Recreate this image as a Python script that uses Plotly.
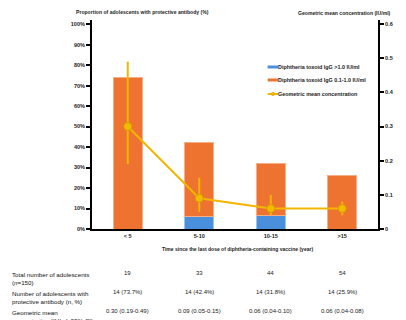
import plotly.graph_objects as go

# Categories: years since last diphtheria-containing vaccine dose
groups = ["< 5", "5-10", "10-15", ">15"]

# Proportion (%) of adolescents by antibody level
pct_high = [0.0, 6.1, 6.8, 0.0]          # IgG > 1.0 IU/ml
pct_mid = [73.7, 36.3, 25.0, 25.9]       # IgG 0.1-1.0 IU/ml

# Geometric mean concentration (IU/ml) with 95% CI
gmc = [0.30, 0.09, 0.06, 0.06]
gmc_lo = [0.19, 0.05, 0.04, 0.04]
gmc_hi = [0.49, 0.15, 0.10, 0.08]

# Left axis ticks
pct_ticks = [0, 10, 20, 30, 40, 50, 60, 70, 80, 90, 100]
pct_tick_text = ["0%", "10%", "20%", "30%", "40%", "50%", "60%", "70%", "80%", "90%", "100%"]

# Table rows under the chart
total_n = ["19", "33", "44", "54"]
protected_n = ["14 (73.7%)", "14 (42.4%)", "14 (31.8%)", "14 (25.9%)"]
gmc_text = ["0.30 (0.19-0.49)", "0.09 (0.05-0.15)", "0.06 (0.04-0.10)", "0.06 (0.04-0.08)"]

# Legend entries
legend_names = ["Diphtheria toxoid IgG >1.0 IU/ml",
                "Diphtheria toxoid IgG 0.1-1.0 IU/ml",
                "Geometric mean concentration"]

FONT = "Liberation Sans, Arial, sans-serif"
BLUE = "#4A8FDC"
ORANGE = "#EE7331"
GOLD = "#F2B600"

fig = go.Figure()

fig.add_trace(go.Bar(
    x=groups, y=pct_high, width=0.4, marker=dict(color=BLUE, line=dict(color="#9CC3EE", width=1)),
    name=legend_names[0], hoverinfo="skip"))
fig.add_trace(go.Bar(
    x=groups, y=pct_mid, width=0.4, marker=dict(color=ORANGE, line=dict(color="#F6AE86", width=1)),
    name=legend_names[1], hoverinfo="skip"))

fig.add_trace(go.Scatter(
    x=groups, y=gmc, yaxis="y2", mode="lines+markers", name=legend_names[2],
    line=dict(color=GOLD, width=2),
    marker=dict(size=8, color="#F5BA00", line=dict(color="#D49C00", width=1)),
    error_y=dict(type="data", symmetric=False,
                 array=[h - m for h, m in zip(gmc_hi, gmc)],
                 arrayminus=[m - l for m, l in zip(gmc, gmc_lo)],
                 color=GOLD, thickness=2, width=0),
    hoverinfo="skip"))

fig.update_layout(
    width=406, height=320,
    margin=dict(l=92, r=16, t=20, b=91),
    paper_bgcolor="white", plot_bgcolor="white",
    barmode="stack", bargap=0.6,
    font=dict(family=FONT, size=6, color="#222"),
    showlegend=False,
    xaxis=dict(showline=True, linecolor="black", linewidth=2, ticks="",
               tickfont=dict(size=5.5, weight="bold"), showgrid=False, zeroline=False),
    yaxis=dict(range=[0, 102], tickvals=pct_ticks, ticktext=pct_tick_text,
               showline=True, linecolor="black", linewidth=2, ticks="outside",
               ticklen=4, tickwidth=1.5, tickcolor="black", showgrid=False, zeroline=False,
               tickfont=dict(size=5.5, weight="bold")),
    yaxis2=dict(range=[0, 0.612], overlaying="y", side="right", dtick=0.1,
                showline=True, linecolor="black", linewidth=2, ticks="outside",
                ticklen=4, tickwidth=1.5, tickcolor="black", showgrid=False, zeroline=False,
                tickfont=dict(size=5.5, weight="bold")),
)

def py(pixel_y):
    # pixel row -> paper coordinate for this plot area
    return (229 - pixel_y) / 209

def px(pixel_x):
    return (pixel_x - 92) / 298

ann = []
shapes = []
ann.append(dict(text="<b>Proportion of adolescents with protective antibody (%)</b>",
                x=px(73), y=py(12), xref="paper", yref="paper", xanchor="left", yanchor="middle",
                showarrow=False, font=dict(size=5.1)))
ann.append(dict(text="<b>Geometric mean concentration (IU/ml)</b>",
                x=px(406), y=py(13), xref="paper", yref="paper", xanchor="right", yanchor="middle",
                showarrow=False, font=dict(size=5.1)))
ann.append(dict(text="<b>Time since the last dose of diphtheria-containing vaccine (year)</b>",
                x=px(244), y=py(249), xref="paper", yref="paper", xanchor="center", yanchor="middle",
                showarrow=False, font=dict(size=5)))

# Legend keys and labels
legend_colors = [BLUE, ORANGE, GOLD]
legend_y = [67, 80, 94]
for name, col, yy in zip(legend_names, legend_colors, legend_y):
    shapes.append(dict(type="line", xref="paper", yref="paper",
                       x0=px(275), x1=px(286), y0=py(yy), y1=py(yy),
                       line=dict(color=col, width=3 if col != GOLD else 2)))
    ann.append(dict(text="<b>" + name + "</b>", x=px(284), y=py(yy), xref="paper", yref="paper",
                    xanchor="left", yanchor="middle", showarrow=False,
                    font=dict(size=5.4, color="#222")))
shapes.append(dict(type="circle", xref="paper", yref="paper",
                   x0=px(278.8), x1=px(282.2), y0=py(92.3), y1=py(95.7),
                   fillcolor=GOLD, line=dict(color="#D49C00", width=0.5)))

row_labels = ["Total number of adolescents<br>(<i>n</i>=150)",
              "Number of adolescents with<br>protective antibody (n, %)",
              "Geometric mean<br>concentration (IU/ml, 95% CI)"]
row_y = [273, 292, 311]
row_vals = [total_n, protected_n, gmc_text]
for label, yy, vals in zip(row_labels, row_y, row_vals):
    ann.append(dict(text=label, x=px(7), y=py(yy - 4), xref="paper", yref="paper",
                    xanchor="left", yanchor="top", align="left", showarrow=False,
                    font=dict(size=6.2, color="#111")))
    for g, v in zip(groups, vals):
        ann.append(dict(text=v, x=g, y=py(yy), xref="x", yref="paper",
                        xanchor="center", yanchor="middle", showarrow=False,
                        font=dict(size=6, color="#222")))

fig.update_layout(annotations=ann, shapes=shapes)
fig.write_html("out.html")
